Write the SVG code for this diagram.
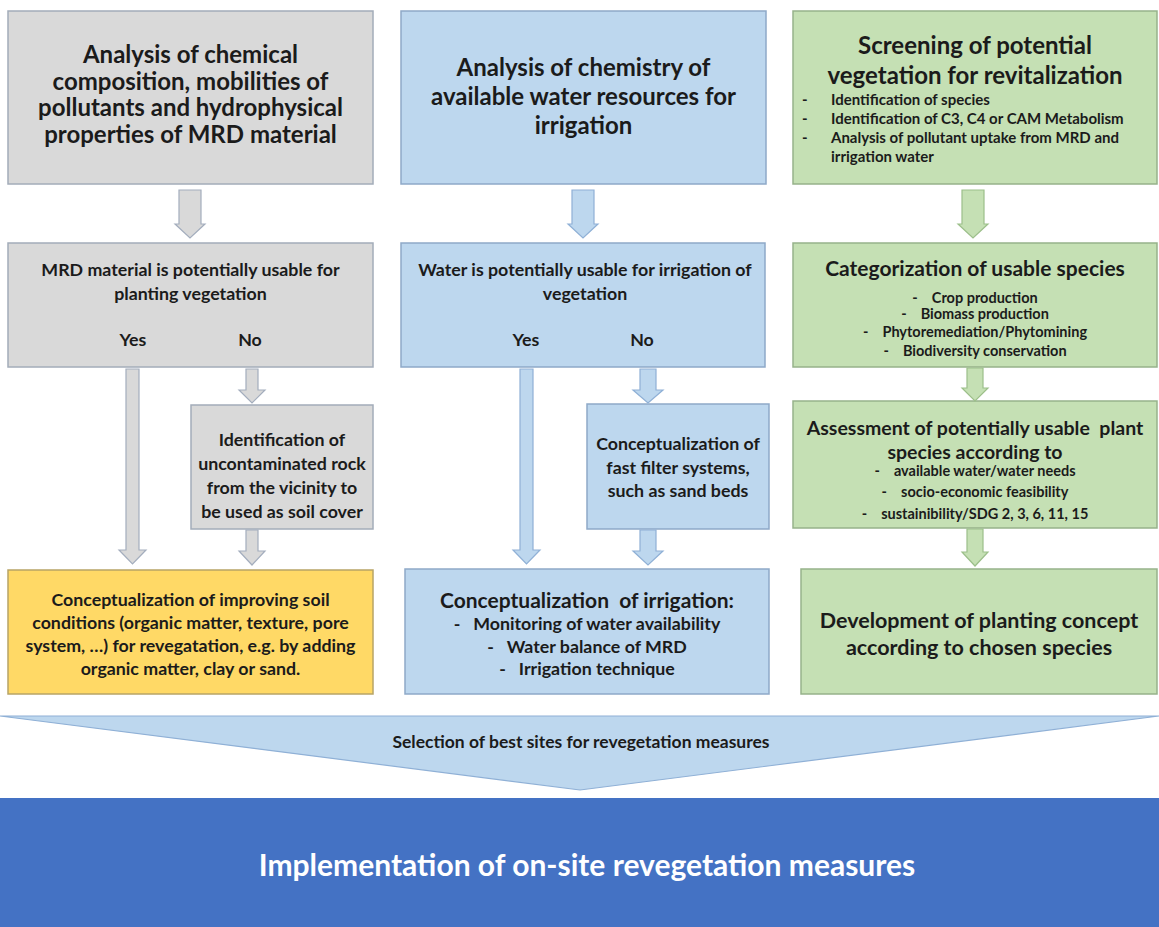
<svg xmlns="http://www.w3.org/2000/svg" width="1159" height="927" viewBox="0 0 1159 927">
<style>
text{font-family:Lato,"Open Sans","Liberation Sans",sans-serif;font-weight:bold;fill:#1b1b1b;text-anchor:middle}
.t{font-size:24px}
.m{font-size:17.8px}
.s{font-size:15px}
.b{font-size:14.5px}
.h{font-size:21px}
.l{text-anchor:start}
.gray{fill:#d9d9d9;stroke:#a3acb9;stroke-width:1.5}
.blue{fill:#bdd7ee;stroke:#8ea9c8;stroke-width:1.5}
.green{fill:#c5e0b4;stroke:#96b28a;stroke-width:1.5}
.yellow{fill:#ffd966;stroke:#b8a466;stroke-width:1.5}
.ag{fill:#d9d9d9;stroke:#a3adbd;stroke-width:1.2}
.ab{fill:#bdd7ee;stroke:#8fb0d6;stroke-width:1.2}
.an{fill:#c5e0b4;stroke:#9cbf8a;stroke-width:1.2}
</style>
<rect width="1159" height="927" fill="#ffffff"/>

<g id="n-chem">
<rect class="gray" x="8" y="11" width="365" height="173"/>
<text class="t" x="190.5" y="63">Analysis of chemical</text>
<text class="t" x="190.5" y="89.5">composition, mobilities of</text>
<text class="t" x="190.5" y="116">pollutants and hydrophysical</text>
<text class="t" x="190.5" y="142.5">properties of MRD material</text>
</g>

<g id="n-water">
<rect class="blue" x="401" y="11" width="365" height="173"/>
<text class="t" x="583.5" y="76">Analysis of chemistry of</text>
<text class="t" x="583.5" y="105">available water resources for</text>
<text class="t" x="583.5" y="134">irrigation</text>
</g>

<g id="n-screen">
<rect class="green" x="793" y="11" width="364" height="173"/>
<text class="t" x="975" y="54">Screening of potential</text>
<text class="t" x="975" y="84">vegetation for revitalization</text>
<text class="s l" x="802" y="105">-</text>
<text class="s l" x="831" y="105">Identification of species</text>
<text class="s l" x="802" y="124">-</text>
<text class="s l" x="831" y="124">Identification of C3, C4 or CAM Metabolism</text>
<text class="s l" x="802" y="143">-</text>
<text class="s l" x="831" y="143">Analysis of pollutant uptake from MRD and</text>
<text class="s l" x="831" y="162">irrigation water</text>
</g>

<g id="n-mrd-usable">
<rect class="gray" x="8" y="243" width="365" height="124"/>
<text class="m" x="190.5" y="276">MRD material is potentially usable for</text>
<text class="m" x="190.5" y="300">planting vegetation</text>
<text class="m" x="133" y="346">Yes</text>
<text class="m" x="250" y="346">No</text>
</g>

<g id="n-rock">
<rect class="gray" x="191" y="405" width="182" height="124"/>
<text class="m" x="282" y="446">Identification of</text>
<text class="m" x="282" y="470">uncontaminated rock</text>
<text class="m" x="282" y="494">from the vicinity to</text>
<text class="m" x="282" y="518">be used as soil cover</text>
</g>

<g id="n-soil">
<rect class="yellow" x="8" y="570" width="365" height="124"/>
<text class="m" x="190.5" y="606">Conceptualization of improving soil</text>
<text class="m" x="190.5" y="629">conditions (organic matter, texture, pore</text>
<text class="m" x="190.5" y="652">system, …) for revegatation, e.g. by adding</text>
<text class="m" x="190.5" y="675">organic matter, clay or sand.</text>
</g>

<g id="n-water-usable">
<rect class="blue" x="401" y="243" width="364" height="124"/>
<text class="m" x="585" y="276">Water is potentially usable for irrigation of</text>
<text class="m" x="585" y="300">vegetation</text>
<text class="m" x="526" y="346">Yes</text>
<text class="m" x="642" y="346">No</text>
</g>

<g id="n-filter">
<rect class="blue" x="587" y="404" width="182" height="125"/>
<text class="m" x="678" y="450">Conceptualization of</text>
<text class="m" x="678" y="474">fast filter systems,</text>
<text class="m" x="678" y="497">such as sand beds</text>
</g>

<g id="n-irrigation">
<rect class="blue" x="405" y="569" width="364" height="125"/>
<text class="h" x="587" y="607.5" xml:space="preserve">Conceptualization  of irrigation:</text>
<text class="m" x="587" y="630" xml:space="preserve">-   Monitoring of water availability</text>
<text class="m" x="587" y="653" xml:space="preserve">-   Water balance of MRD</text>
<text class="m" x="587" y="675" xml:space="preserve">-   Irrigation technique</text>
</g>

<g id="n-categorize">
<rect class="green" x="793" y="243" width="364" height="124"/>
<text class="h" x="975" y="275.5">Categorization of usable species</text>
<text class="b" x="975" y="303" xml:space="preserve">-    Crop production</text>
<text class="b" x="975" y="319" xml:space="preserve">-    Biomass production</text>
<text class="b" x="975" y="336.5" xml:space="preserve">-    Phytoremediation/Phytomining</text>
<text class="b" x="975" y="355.5" xml:space="preserve">-    Biodiversity conservation</text>
</g>

<g id="n-assess">
<rect class="green" x="793" y="401" width="364" height="127"/>
<text x="975" y="435" style="font-size:19.5px" xml:space="preserve">Assessment of potentially usable  plant</text>
<text x="975" y="459" style="font-size:19.5px">species according to</text>
<text class="b" x="975" y="475.5" xml:space="preserve">-    available water/water needs</text>
<text class="b" x="975" y="496.5" xml:space="preserve">-    socio-economic feasibility</text>
<text class="b" x="975" y="518.5" xml:space="preserve">-    sustainibility/SDG 2, 3, 6, 11, 15</text>
</g>

<g id="n-planting">
<rect class="green" x="801" y="569" width="356" height="125"/>
<text x="979" y="628" style="font-size:21.5px">Development of planting concept</text>
<text x="979" y="655" style="font-size:21.5px">according to chosen species</text>
</g>

<g id="n-selection">
<polygon points="0,716 1159,716 580,790" fill="#bdd7ee" stroke="#8fb0d6" stroke-width="1.2"/>
<text x="581" y="748" style="font-size:17.5px">Selection of best sites for revegetation measures</text>
</g>

<g id="n-implement">
<rect x="0" y="798" width="1159" height="129" fill="#4472c4"/>
<text x="587" y="876" style="font-size:30px;fill:#ffffff">Implementation of on-site revegetation measures</text>
</g>

<g id="connectors">
<path class="ag" d="M179,190 H201 V224 H205 L190,238 L175,224 H179 Z"/>
<path class="ab" d="M572,190 H594 V224 H598 L583,238 L568,224 H572 Z"/>
<path class="an" d="M962,190 H984 V224 H988 L973,238 L958,224 H962 Z"/>
<path class="ag" d="M126,369 H139 V550 H146 L132.5,564 L119,550 H126 Z"/>
<path class="ag" d="M246,369 H258 V390 H265 L252,403 L239,390 H246 Z"/>
<path class="ag" d="M246,530 H258 V551 H265 L252,565 L239,551 H246 Z"/>
<path class="ab" d="M520,369 H533 V550 H540 L526.5,564 L513,550 H520 Z"/>
<path class="ab" d="M640,369 H656 V390 H663 L648,403 L633,390 H640 Z"/>
<path class="ab" d="M640,530 H656 V551 H663 L648,565 L633,551 H640 Z"/>
<path class="an" d="M967,368 H983 V388 H988 L975,401 L962,388 H967 Z"/>
<path class="an" d="M967,529 H983 V552 H988 L975,566 L962,552 H967 Z"/>
</g>
</svg>
